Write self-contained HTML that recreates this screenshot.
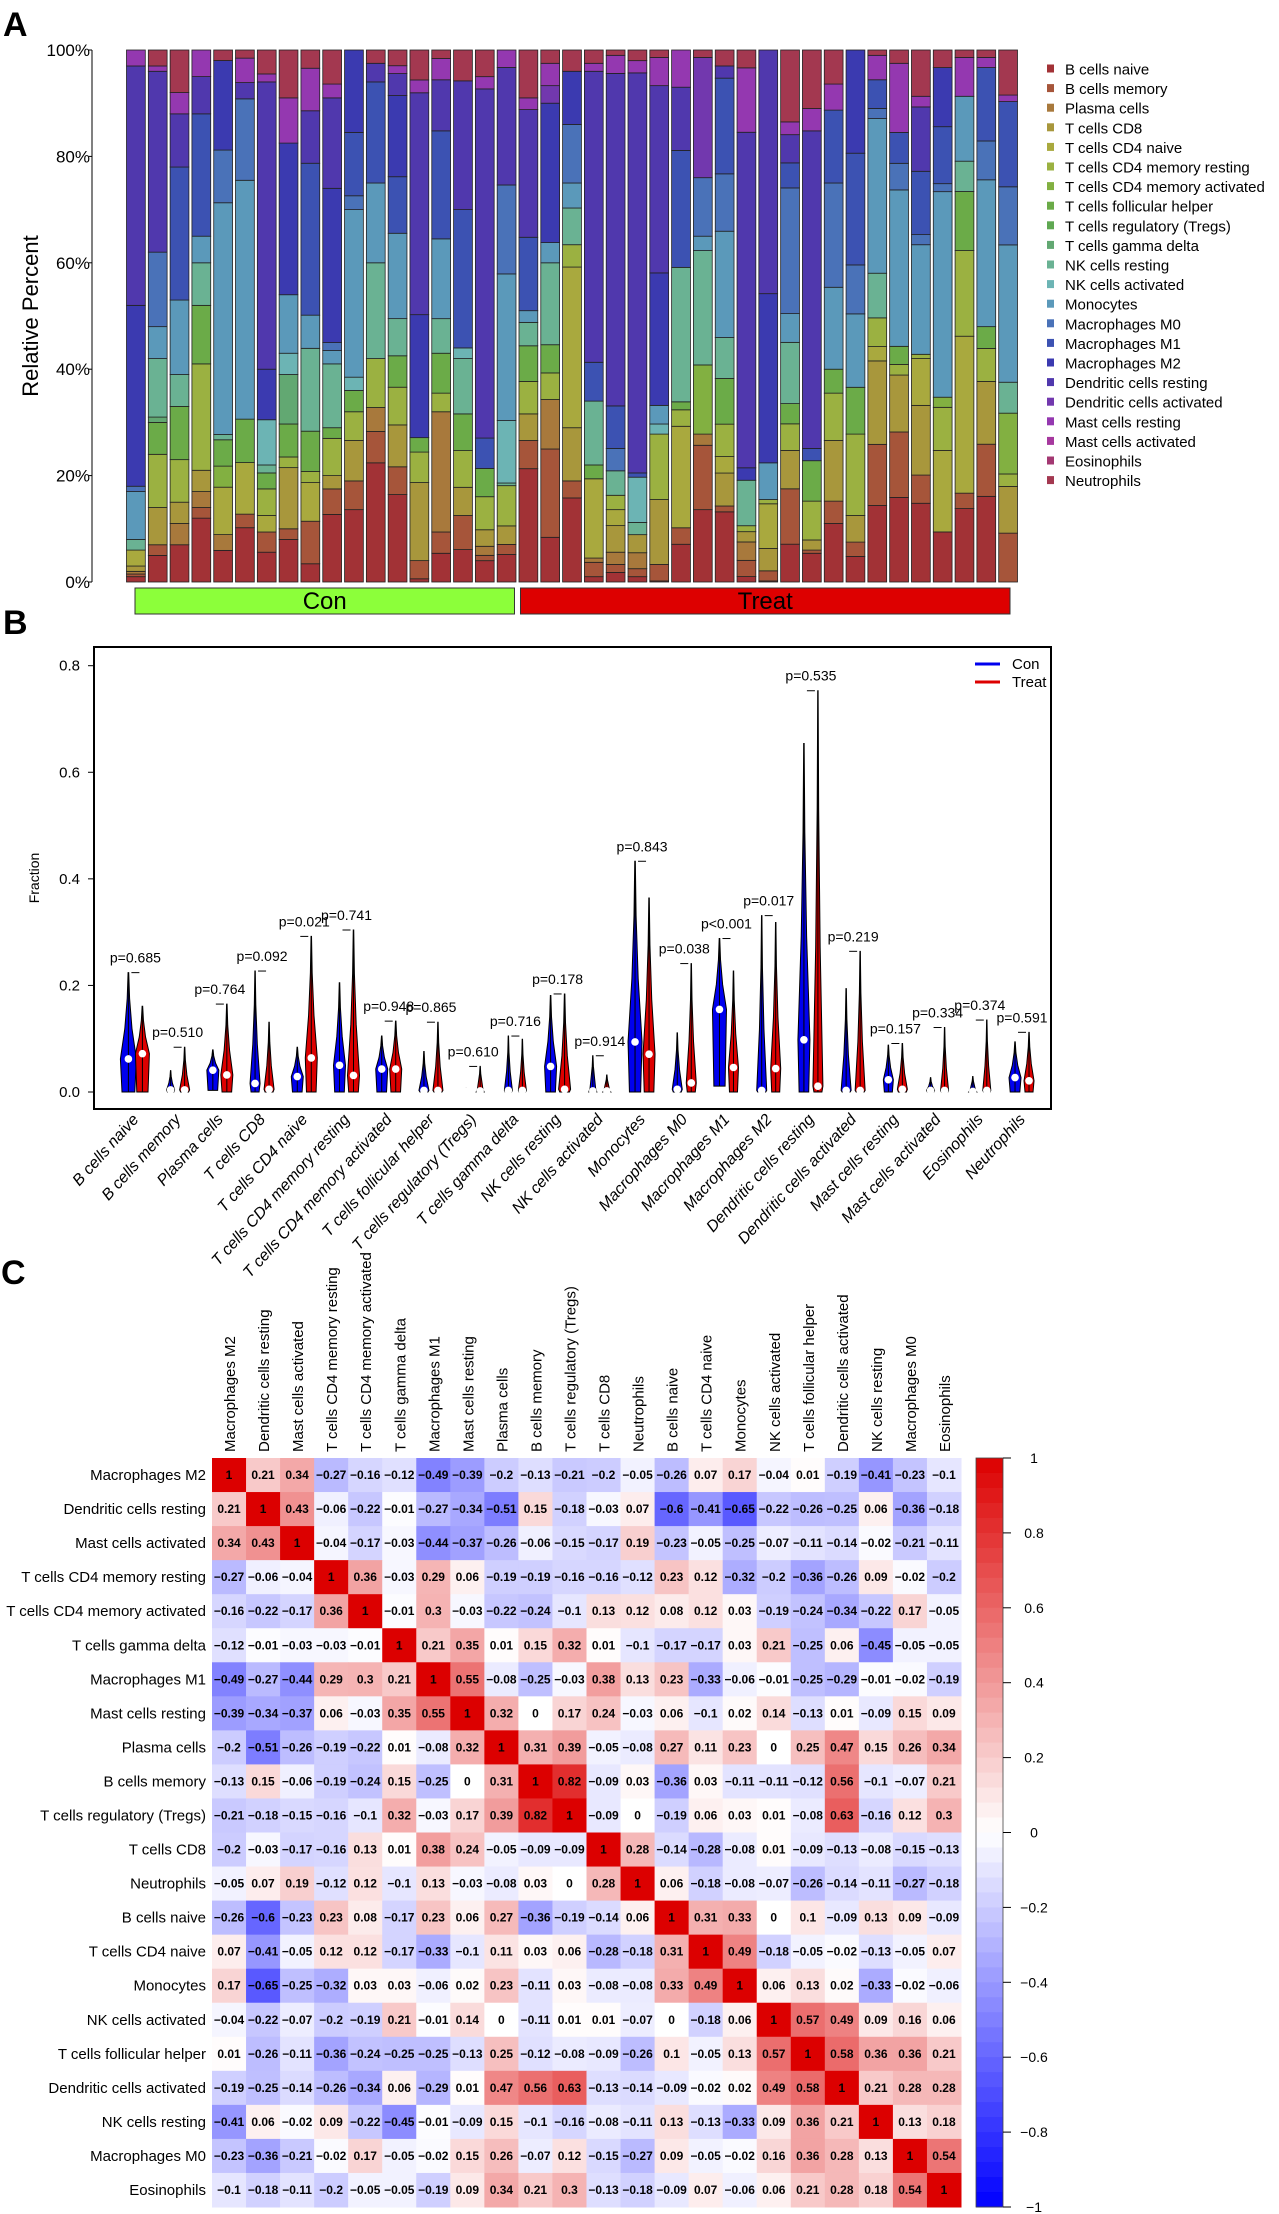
<!DOCTYPE html>
<html><head><meta charset="utf-8">
<style>
html,body{margin:0;padding:0;background:#fff;}
svg{display:block;font-family:"Liberation Sans Narrow","Liberation Sans",sans-serif;}
</style></head>
<body>
<svg id="fig" width="1279" height="2214" viewBox="0 0 1279 2214" xmlns="http://www.w3.org/2000/svg">
<text x="3" y="36" font-size="34" font-weight="bold" font-family="Liberation Sans, sans-serif">A</text>
<text x="3" y="634" font-size="34" font-weight="bold" font-family="Liberation Sans, sans-serif">B</text>
<text x="1" y="1284" font-size="34" font-weight="bold" font-family="Liberation Sans, sans-serif">C</text>
<g id="pa"></g>
<g id="pb"></g>
<g id="pc"></g>
</svg>
<script>
const NS="http://www.w3.org/2000/svg";
function mk(tag,attrs,parent,txt){const e=document.createElementNS(NS,tag);for(const k in attrs)e.setAttribute(k,attrs[k]);if(txt!==undefined)e.textContent=txt;parent.appendChild(e);return e;}

// ===== Panel A data =====
const cellTypes=["B cells naive","B cells memory","Plasma cells","T cells CD8","T cells CD4 naive","T cells CD4 memory resting","T cells CD4 memory activated","T cells follicular helper","T cells regulatory (Tregs)","T cells gamma delta","NK cells resting","NK cells activated","Monocytes","Macrophages M0","Macrophages M1","Macrophages M2","Dendritic cells resting","Dendritic cells activated","Mast cells resting","Mast cells activated","Eosinophils","Neutrophils"];
const typeColors=["#a23236","#a6553a","#a8793c","#a8973c","#a9a93e","#9bb141","#82b041","#6bab48","#5fa852","#62a872","#6ab293","#6cb4b4","#5b99ba","#4a72b8","#3c52b2","#3b3ab0","#5038ad","#7238ae","#9438b0","#a6389e","#a33872","#a33850"];
const sampleValues=[
[1,0.5,0.5,1,3,0,0,0,0,0,2,0,9,1,0,34,45,0,3,0,0,0],
[5,2,0,7,0,10,0,6,0,1,11,0,6,14,0,0,34,0,1,0,0,3],
[7,0,4,4,0,8,0,10,0,0,6,0,14,0,25,0,10,0,4,0,0,8],
[12,2,3,4,0,20,0,11,0,0,8,0,5,0,23,0,7,0,5,0,0,0],
[6,0,3,0,9,0,4,5,0,0,1,0,44,10,0,17,0,0,0,0,0,2],
[10,2.5,0,0,9.5,0,0,8,0,0,0,0,44,15,0,0,3,0,4.5,0,0,1.5],
[5.6,3.8,0,0,3.1,5,0,3,0,0,1.5,8.5,0,0,0,9.5,54,0,1.5,0,0,4.5],
[8,2,0,11.5,0,2,0,6.2,0,9.3,0,4,11,0,0,28.5,0,0,8.5,0,0,9],
[3.3,7.7,0,0,7,2,0,7.3,0,0,15,0,6,0,27.5,0,9.5,0,7.7,0,0,3.3],
[12.7,4.8,0,2.5,0,7,0,2,0,0,12,0,2.5,1.5,0,29,17,0,2.6,0,0,6.4],
[13.6,5.4,0,7.6,0,5.4,0,4,0,0,0,2.5,31.5,2.6,11.9,15.5,0,0,0,0,0,0],
[22.4,5.9,4.5,0,0,9.2,0,0,0,0,18,0,15,0,19,0,3.5,0,0,0,0,2.5],
[16.7,5.3,0,8,0,7.2,0,6,0,0,7.1,0,16.3,0,10.8,15.5,4.2,0,1.5,0,0,3],
[0.6,3.4,0,14.6,0,5.7,0,2.7,0,0,0,0,0,0,0,23,41.5,0,2.4,0,0,5.6],
[5.4,4,22.6,0,0,3.5,0,7.5,0,0,6.5,0,15,0,20.3,0,9.6,0,4,0,0,1.6],
[6.1,6.4,0,5.3,0,6.9,0,6.9,0,0,10.4,2,0,0,26,0,24.2,0,0,0,0,5.8],
[4,1,1.7,3.1,0,6.2,0,5.3,0,0,0,0,0,0,5.7,0,65.5,0,2.3,0,0,5],
[5.2,1.9,0,3.5,0,7.6,0,0,0,0,0.5,11.8,27.7,16.8,0,0,22.2,0,3.3,0,0,0],
[21.3,5.3,0,5,0,6.1,0,6.7,0,0,4.4,0,2.2,0,13.8,0,24,0,2.2,0,0,9],
[8.4,16.6,9.3,0,0,5,0,5.3,0,0,15.4,0,3.8,0,0,26.2,0,3.3,4.2,0,0,2.5],
[15.8,3.2,0,10,30.2,4.2,0,0,0,0,6.9,0,4.7,11,0,10,0,0,0,0,0,4],
[1,2.7,0.8,0,14.9,0,0,2.6,0,0,12,0,0,0,7.3,0,54.7,0,1.5,0,0,2.5],
[1.8,1.5,2.3,5,3,2.7,0,0,0,0,4.6,0,0,4.2,8,0,62.5,0,3.4,0,0,1],
[1,1.5,3,3.4,0,0,0,0,0,0,2.3,8.5,0,0,0.8,0,75.2,0,2.3,0,0,2],
[0.2,3.1,0,12.2,0,12.3,0,0,0,0,0,1.9,3.5,0,0,24.9,35.2,0,5.3,0,0,1.4],
[7.1,3.1,0,0,19.1,3.1,0,1.5,0,0,25.3,0,0,0,22,0,11.9,0,7,0,0,0],
[13.6,12.1,2.1,0,0,0,13,0,0,0,21.5,0,2.7,11,0,0,0,22.6,0,0,0,1.4],
[13.2,1.1,0,6.2,3.1,6.1,0,8.6,0,0,7.7,0,20,10.8,18,0,2.3,0,0,0,0,3],
[1,3,3.4,1.9,0,1.1,0,0,0,0,8.4,0,0,0,0,2.3,62,0,11.9,0,0,3.3],
[0.2,1.9,0,4.2,8.4,0.8,0,0,0,0,0,0,6.9,0,0,31.8,45.8,0,0,0,0,0],
[7.1,10.4,0,7.2,0,5,0,3.8,0,0,11.5,0,5.4,23.6,4.7,0,5.3,0,2.4,0,0,13.5],
[5.4,0.6,0,1.9,0,7.3,0,7.6,0,0,0,0,0,0,2.3,0,59.7,0,4.2,0,0,11],
[11,4.2,0,11.4,0,8.9,0,4.5,0,0,0,0,15.4,19.6,13.7,0,0,0,4.9,0,0,6.4],
[4.8,2.7,0,5,0,15.3,0,8.8,0,0,0,0,13.8,9.2,21,19.4,0,0,0,0,0,0],
[14.4,11.5,0,15.7,2.7,5.4,0,0,0,0,8.4,0,29.1,1.9,5.4,0,0,0,4.6,0,0,1],
[15.9,12.3,0,10.7,0,2,0,3.4,0,0,0,0,29.4,5,5.8,0,0,0,13,0,0,2.5],
[14.8,5.3,0,13.1,8.8,0.8,0,0,0,0,0,0,20.6,1.9,11.9,0,12.1,0,2,0,0,8.7],
[9.4,0,0,0,15.3,8.1,1.9,0,0,0,0,0,38.6,1.5,10.7,11.1,0,0,0,0,0,3.3],
[13.8,2.9,0,0,29.5,16.1,0,11.1,0,0,5.7,0,12.2,0,0,0,0,0,7.3,0,0,1.4],
[16.1,9.8,0,11.8,0,6.2,0,4.1,0,0,0,0,27.6,7.3,13.8,0,0,0,1.9,0,0,1.4],
[0,9,0,8.6,0,2.3,11.2,0,0,0,5.7,0,25.3,10.7,15.7,0,0,0,1.2,0,0,8.3]
];
const groupNames=["Con","Treat"];
const groupSizes=[18,23];
const pctTicks=[0,20,40,60,80,100];

(function(){
 const g=document.getElementById('pa');
 const L=125,R=1019,T=50,B=582;
 const n=sampleValues.length, bw=(R-L)/n;
 const yA=p=>B-(B-T)*p/100;
 const xA=i=>L+i*bw;
 const ax=mk('line',{x1:92,y1:T,x2:92,y2:B,stroke:'#000','stroke-width':1},g);
 
 pctTicks.forEach(t=>{const tl=mk('text',{x:90,y:yA(t)+6,'text-anchor':'end','font-size':17},g,t+'%');
  
  mk('line',{x1:89,x2:92,y1:yA(t),y2:yA(t),stroke:'#000'},g);});
 const yt=mk('text',{x:0,y:0,transform:`translate(38,${(T+B)/2}) rotate(-90)`,'text-anchor':'middle','font-size':22,'font-family':'Liberation Sans, sans-serif'},g,'Relative Percent');
 
 sampleValues.forEach((vals,i)=>{
  const tot=vals.reduce((a,b)=>a+b,0);let cum=0;
  const bg=mk('g',{},g);
  vals.forEach((v,k)=>{if(v<=0)return;const p0=cum/tot*100;cum+=v;const p1=cum/tot*100;
   const r=mk('rect',{x:xA(i)+1.5,width:bw-3,y:yA(p1),height:yA(p0)-yA(p1),fill:typeColors[k],stroke:'#222','stroke-width':0.8},bg);
   });
 });
 let start=0;const cols=['#8cff3a','#dd0000'];
 groupSizes.forEach((s,gi)=>{const x0=gi==0?135:xA(start)+3,x1=gi==0?xA(start+s)-3:1010;
  const r=mk('rect',{x:x0,y:588,width:x1-x0,height:26,fill:cols[gi],stroke:'#333','stroke-width':1},g);
  
  const t=mk('text',{x:(x0+x1)/2,y:609,'text-anchor':'middle','font-size':24},g,groupNames[gi]);
  
  start+=s;});
 cellTypes.forEach((c,k)=>{const y=69.5+k*19.6;
  const le=mk('g',{},g);
  mk('rect',{x:1047,y:y-5,width:7,height:8,fill:typeColors[k]},le);
  mk('text',{x:1065,y:y+5,'font-size':15},le,c);});
})();

// ===== Panel B data =====
const violinCats=cellTypes;
const conMax=[0.224,0.04,0.079,0.227,0.084,0.205,0.105,0.076,0.007,0.105,0.181,0.068,0.433,0.111,0.288,0.331,0.654,0.194,0.088,0.027,0.029,0.094];
const treatMax=[0.161,0.084,0.165,0.131,0.292,0.304,0.133,0.131,0.048,0.099,0.184,0.032,0.364,0.241,0.227,0.318,0.753,0.264,0.091,0.121,0.135,0.112];
const conMed=[0.062,0.004,0.041,0.016,0.029,0.05,0.043,0.003,0.001,0.003,0.048,0.002,0.094,0.005,0.155,0.003,0.098,0.003,0.023,0.003,0.001,0.027];
const treatMed=[0.072,0.004,0.032,0.005,0.064,0.031,0.043,0.003,0.002,0.003,0.005,0.002,0.071,0.017,0.046,0.044,0.011,0.003,0.005,0.003,0.003,0.021];
const conMin=[0,0,0.003,0,0,0,0,0,0,0,0,0,0,0,0.011,0,0,0,0,0,0,0];
const pLabels=["p=0.685","p=0.510","p=0.764","p=0.092","p=0.021","p=0.741","p=0.948","p=0.865","p=0.610","p=0.716","p=0.178","p=0.914","p=0.843","p=0.038","p<0.001","p=0.017","p=0.535","p=0.219","p=0.157","p=0.334","p=0.374","p=0.591"];
const conW=[8,4,6,5,6,6,6,5,3,4,6,4,7,5,7,5,6,5,5,4,4,6];
const treatW=[7,5,6,5,6,6,6,5,4,4,6,4,6,5,5,5,5,5,5,4,4,5];
const fracTicks=[0,0.2,0.4,0.6,0.8];

(function(){
 const g=document.getElementById('pb');
 const y0=1092,y8=665.7;
 const yB=v=>y0-(y0-y8)*v/0.8;
 const xB=i=>135.4+i*42.22;
 const box=mk('rect',{x:94,y:647,width:957,height:462,fill:'none',stroke:'#000','stroke-width':2},g);
 
 fracTicks.forEach(t=>{mk('line',{x1:88,x2:94,y1:yB(t),y2:yB(t),stroke:'#000'},g);
  const tl=mk('text',{x:80,y:yB(t)+5,'text-anchor':'end','font-size':15},g,t.toFixed(1));
  });
 const yt=mk('text',{x:0,y:0,transform:'translate(39,878) rotate(-90)','text-anchor':'middle','font-size':14,'font-family':'Liberation Sans, sans-serif'},g,'Fraction');
 
 function violin(cx,w,mn,md,mx,col,name){
  const pts=[[mn,0.8],[md,1],[md+(mx-md)*0.35,0.45],[md+(mx-md)*0.7,0.15],[mx,0.04]];
  if(md<=mn+0.002){pts[0]=[mn,1];pts[1]=[mn+(mx-mn)*0.1,0.7];}
  let d='M'+(cx-w*pts[0][1])+','+yB(pts[0][0]);
  pts.forEach(p=>{d+=' L'+(cx-w*p[1])+','+yB(p[0]);});
  pts.slice().reverse().forEach(p=>{d+=' L'+(cx+w*p[1])+','+yB(p[0]);});
  d+='Z';
  const p=mk('path',{d:d,fill:col,stroke:'#000','stroke-width':1},g);
  
  mk('line',{x1:cx,x2:cx,y1:yB(mn),y2:yB(mx),stroke:'#000','stroke-width':1},g);
  mk('circle',{cx:cx,cy:yB(md),r:3.8,fill:'#fff'},g);
 }
 violinCats.forEach((c,i)=>{const cx=xB(i);
  violin(cx-7,conW[i],conMin[i],conMed[i],conMax[i],'#0000ee','violin-con');
  violin(cx+7,treatW[i],0,treatMed[i],treatMax[i],'#dd0000','violin-treat');
  const top=yB(Math.max(conMax[i],treatMax[i]));
  mk('line',{x1:cx-4,x2:cx+4,y1:top,y2:top,stroke:'#000'},g);
  const pt=mk('text',{x:cx,y:top-10,'text-anchor':'middle','font-size':14},g,pLabels[i]);
  
  const xl=mk('text',{x:0,y:0,transform:`translate(${cx+4},1120) rotate(-48)`,'text-anchor':'end','font-size':16,'font-style':'italic','font-family':'Liberation Sans, sans-serif'},g,c);
  
 });
 [['Con','#0000ee',664],['Treat','#dd0000',682]].forEach(l=>{
  const le=mk('g',{},g);
  mk('line',{x1:975,x2:1000,y1:l[2],y2:l[2],stroke:l[1],'stroke-width':3},le);
  mk('text',{x:1012,y:l[2]+5,'font-size':15},le,l[0]);});
})();

// ===== Panel C data =====
const corrLabels=["Macrophages M2","Dendritic cells resting","Mast cells activated","T cells CD4 memory resting","T cells CD4 memory activated","T cells gamma delta","Macrophages M1","Mast cells resting","Plasma cells","B cells memory","T cells regulatory (Tregs)","T cells CD8","Neutrophils","B cells naive","T cells CD4 naive","Monocytes","NK cells activated","T cells follicular helper","Dendritic cells activated","NK cells resting","Macrophages M0","Eosinophils"];
const corrMatrix=[
[1,0.21,0.34,-0.27,-0.16,-0.12,-0.49,-0.39,-0.2,-0.13,-0.21,-0.2,-0.05,-0.26,0.07,0.17,-0.04,0.01,-0.19,-0.41,-0.23,-0.1],
[0.21,1,0.43,-0.06,-0.22,-0.01,-0.27,-0.34,-0.51,0.15,-0.18,-0.03,0.07,-0.6,-0.41,-0.65,-0.22,-0.26,-0.25,0.06,-0.36,-0.18],
[0.34,0.43,1,-0.04,-0.17,-0.03,-0.44,-0.37,-0.26,-0.06,-0.15,-0.17,0.19,-0.23,-0.05,-0.25,-0.07,-0.11,-0.14,-0.02,-0.21,-0.11],
[-0.27,-0.06,-0.04,1,0.36,-0.03,0.29,0.06,-0.19,-0.19,-0.16,-0.16,-0.12,0.23,0.12,-0.32,-0.2,-0.36,-0.26,0.09,-0.02,-0.2],
[-0.16,-0.22,-0.17,0.36,1,-0.01,0.3,-0.03,-0.22,-0.24,-0.1,0.13,0.12,0.08,0.12,0.03,-0.19,-0.24,-0.34,-0.22,0.17,-0.05],
[-0.12,-0.01,-0.03,-0.03,-0.01,1,0.21,0.35,0.01,0.15,0.32,0.01,-0.1,-0.17,-0.17,0.03,0.21,-0.25,0.06,-0.45,-0.05,-0.05],
[-0.49,-0.27,-0.44,0.29,0.3,0.21,1,0.55,-0.08,-0.25,-0.03,0.38,0.13,0.23,-0.33,-0.06,-0.01,-0.25,-0.29,-0.01,-0.02,-0.19],
[-0.39,-0.34,-0.37,0.06,-0.03,0.35,0.55,1,0.32,0,0.17,0.24,-0.03,0.06,-0.1,0.02,0.14,-0.13,0.01,-0.09,0.15,0.09],
[-0.2,-0.51,-0.26,-0.19,-0.22,0.01,-0.08,0.32,1,0.31,0.39,-0.05,-0.08,0.27,0.11,0.23,0,0.25,0.47,0.15,0.26,0.34],
[-0.13,0.15,-0.06,-0.19,-0.24,0.15,-0.25,0,0.31,1,0.82,-0.09,0.03,-0.36,0.03,-0.11,-0.11,-0.12,0.56,-0.1,-0.07,0.21],
[-0.21,-0.18,-0.15,-0.16,-0.1,0.32,-0.03,0.17,0.39,0.82,1,-0.09,0,-0.19,0.06,0.03,0.01,-0.08,0.63,-0.16,0.12,0.3],
[-0.2,-0.03,-0.17,-0.16,0.13,0.01,0.38,0.24,-0.05,-0.09,-0.09,1,0.28,-0.14,-0.28,-0.08,0.01,-0.09,-0.13,-0.08,-0.15,-0.13],
[-0.05,0.07,0.19,-0.12,0.12,-0.1,0.13,-0.03,-0.08,0.03,0,0.28,1,0.06,-0.18,-0.08,-0.07,-0.26,-0.14,-0.11,-0.27,-0.18],
[-0.26,-0.6,-0.23,0.23,0.08,-0.17,0.23,0.06,0.27,-0.36,-0.19,-0.14,0.06,1,0.31,0.33,0,0.1,-0.09,0.13,0.09,-0.09],
[0.07,-0.41,-0.05,0.12,0.12,-0.17,-0.33,-0.1,0.11,0.03,0.06,-0.28,-0.18,0.31,1,0.49,-0.18,-0.05,-0.02,-0.13,-0.05,0.07],
[0.17,-0.65,-0.25,-0.32,0.03,0.03,-0.06,0.02,0.23,-0.11,0.03,-0.08,-0.08,0.33,0.49,1,0.06,0.13,0.02,-0.33,-0.02,-0.06],
[-0.04,-0.22,-0.07,-0.2,-0.19,0.21,-0.01,0.14,0,-0.11,0.01,0.01,-0.07,0,-0.18,0.06,1,0.57,0.49,0.09,0.16,0.06],
[0.01,-0.26,-0.11,-0.36,-0.24,-0.25,-0.25,-0.13,0.25,-0.12,-0.08,-0.09,-0.26,0.1,-0.05,0.13,0.57,1,0.58,0.36,0.36,0.21],
[-0.19,-0.25,-0.14,-0.26,-0.34,0.06,-0.29,0.01,0.47,0.56,0.63,-0.13,-0.14,-0.09,-0.02,0.02,0.49,0.58,1,0.21,0.28,0.28],
[-0.41,0.06,-0.02,0.09,-0.22,-0.45,-0.01,-0.09,0.15,-0.1,-0.16,-0.08,-0.11,0.13,-0.13,-0.33,0.09,0.36,0.21,1,0.13,0.18],
[-0.23,-0.36,-0.21,-0.02,0.17,-0.05,-0.02,0.15,0.26,-0.07,0.12,-0.15,-0.27,0.09,-0.05,-0.02,0.16,0.36,0.28,0.13,1,0.54],
[-0.1,-0.18,-0.11,-0.2,-0.05,-0.05,-0.19,0.09,0.34,0.21,0.3,-0.13,-0.18,-0.09,0.07,-0.06,0.06,0.21,0.28,0.18,0.54,1]
];
const scaleTicks=[1,0.8,0.6,0.4,0.2,0,-0.2,-0.4,-0.6,-0.8,-1];

(function(){
 const g=document.getElementById('pc');
 const L=212,T=1458,S=749,n=corrLabels.length,c=S/n;
 const col=v=>{if(v>=0){const r=Math.round(255-v*35),gg=Math.round(255*(1-v));return `rgb(${r},${gg},${gg})`;}
  const a=-v;const rb=Math.round(255*(1-a));return `rgb(${rb},${rb},255)`;};
 const fmt=v=>String(v).replace('-','\u2212');
 corrMatrix.forEach((row,i)=>{
  const rl=mk('text',{x:L-6,y:T+c*i+c/2+5,'text-anchor':'end','font-size':15},g,corrLabels[i]);
  
  const cl=mk('text',{x:0,y:0,transform:`translate(${L+c*i+c/2+6},${T-6}) rotate(-90)`,'font-size':15,'font-family':'Liberation Sans, sans-serif'},g,corrLabels[i]);
  
  row.forEach((v,j)=>{
   const r=mk('rect',{x:L+c*j,y:T+c*i,width:c+0.5,height:c+0.5,fill:col(v)},g);
   
   mk('text',{x:L+c*j+c/2,y:T+c*i+c/2+4,'text-anchor':'middle','font-size':12,'font-weight':'bold'},g,fmt(v));
  });
 });
 const cb=mk('g',{},g);
 const steps=50;for(let k=0;k<steps;k++){const v=1-2*(k+0.5)/steps;
  mk('rect',{x:976,y:T+S*k/steps,width:27,height:S/steps+0.5,fill:col(v)},cb);}
 mk('rect',{x:976,y:T,width:27,height:S,fill:'none',stroke:'#444','stroke-width':0.8},cb);
 scaleTicks.forEach(t=>{const y=T+S*(1-t)/2;
  mk('line',{x1:1003,x2:1011,y1:y,y2:y,stroke:'#000'},cb);
  const tl=mk('text',{x:1034,y:y+5,'text-anchor':'middle','font-size':14},cb,String(t).replace('-','\u2212'));
  });
})();
</script>
</body></html>
